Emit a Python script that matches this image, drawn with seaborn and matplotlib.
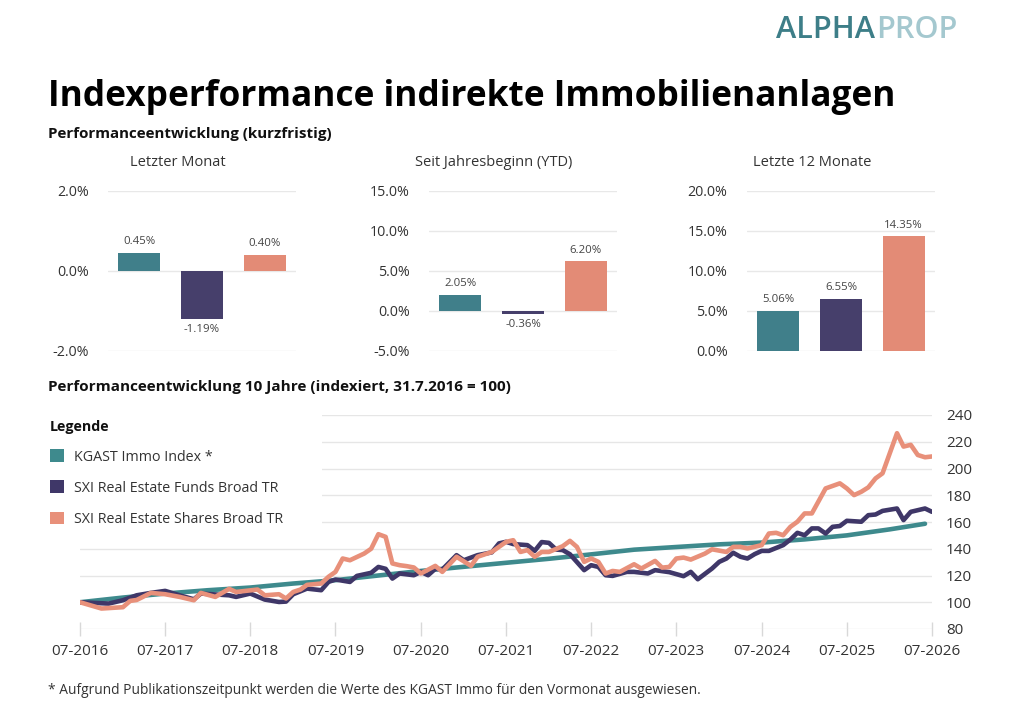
import matplotlib
matplotlib.use("Agg")
import matplotlib.pyplot as plt
import matplotlib.dates as mdates
from matplotlib.patches import Patch
from matplotlib.ticker import FuncFormatter, MultipleLocator
import seaborn as sns
import pandas as pd
import datetime as dt

# ---------------- data ----------------
categories = ["KGAST Immo Index *", "SXI Real Estate Funds Broad TR", "SXI Real Estate Shares Broad TR"]
last_month = [0.45, -1.19, 0.40]
ytd = [2.05, -0.36, 6.20]
last_12m = [5.06, 6.55, 14.35]

panel_titles = ["Letzter Monat", "Seit Jahresbeginn (YTD)", "Letzte 12 Monate"]

kgast_dates = ["2016-07", "2017-01", "2017-07", "2018-01", "2018-07", "2019-01", "2019-07",
               "2020-01", "2020-07", "2021-01", "2021-07", "2022-01", "2022-07", "2023-01",
               "2023-07", "2024-01", "2024-07", "2025-01", "2025-07", "2026-01", "2026-06"]
kgast_values = [100, 103.5, 106.5, 109, 111, 114, 116.5, 120, 123.4, 126.5, 129.5, 132.5,
                135.8, 139.3, 141.3, 143.3, 144.6, 147, 150, 154.5, 158.7]

funds_dates = ["2016-07", "2016-11", "2017-01", "2017-03", "2017-05", "2017-07", "2017-09",
               "2017-11", "2017-12", "2018-04", "2018-05", "2018-07", "2018-09", "2018-11",
               "2018-12", "2019-01", "2019-03", "2019-05", "2019-06", "2019-07", "2019-09",
               "2019-10", "2019-12", "2020-01", "2020-02", "2020-03", "2020-04", "2020-06",
               "2020-07", "2020-08", "2020-09", "2020-10", "2020-12", "2021-01", "2021-03",
               "2021-05", "2021-06", "2021-07", "2021-08", "2021-10", "2021-11", "2021-12",
               "2022-01", "2022-02", "2022-03", "2022-04", "2022-06", "2022-07", "2022-08",
               "2022-09", "2022-10", "2022-12", "2023-01", "2023-03", "2023-04", "2023-06",
               "2023-08", "2023-09", "2023-10", "2023-12", "2024-01", "2024-02", "2024-03",
               "2024-04", "2024-05", "2024-06", "2024-07", "2024-08", "2024-10", "2024-11",
               "2024-12", "2025-01", "2025-02", "2025-03", "2025-04", "2025-05", "2025-06",
               "2025-07", "2025-09", "2025-10", "2025-11", "2025-12", "2026-02", "2026-03",
               "2026-04", "2026-06", "2026-07"]
funds_values = [100, 99, 101.5, 105.2, 107, 108.5, 105.2,
                102.2, 106.5, 105.2, 104, 106.5, 102, 100.2,
                100.5, 106, 110.2, 109, 115.2, 117, 115.2,
                119.7, 122, 126.4, 125, 117.7, 121.5, 120.2,
                122.7, 120.2, 125, 124.5, 135.2, 131.4, 135.2,
                137.3, 144, 145.2, 143.5, 142.7, 138.4, 145,
                144.4, 139.4, 139, 135.9, 124, 127.7, 126.4,
                120.2, 119.7, 122.7, 122.7, 121.5, 124, 122.5,
                119.5, 122.7, 117.2, 125.2, 130.2, 132.7, 137,
                134, 132.7, 136, 138.4, 138.4, 142.7, 146.9,
                151.9, 150.1, 155.2, 155.2, 151.4, 156.4, 157,
                160.9, 160.2, 165.1, 165.6, 168.3, 170.1, 161.4,
                167.6, 170.1, 167.6]

shares_dates = ["2016-07", "2016-10", "2017-01", "2017-02", "2017-03", "2017-05", "2017-07",
                "2017-09", "2017-11", "2017-12", "2018-02", "2018-04", "2018-05", "2018-08",
                "2018-09", "2018-11", "2018-12", "2019-01", "2019-02", "2019-03", "2019-05",
                "2019-06", "2019-07", "2019-08", "2019-09", "2019-11", "2019-12", "2020-01",
                "2020-02", "2020-03", "2020-04", "2020-05", "2020-06", "2020-07", "2020-09",
                "2020-10", "2020-12", "2021-02", "2021-03", "2021-05", "2021-07", "2021-08",
                "2021-09", "2021-10", "2021-11", "2021-12", "2022-01", "2022-03", "2022-04",
                "2022-05", "2022-06", "2022-07", "2022-08", "2022-09", "2022-10", "2022-11",
                "2023-01", "2023-02", "2023-04", "2023-05", "2023-06", "2023-07", "2023-08",
                "2023-09", "2023-11", "2023-12", "2024-02", "2024-03", "2024-04", "2024-05",
                "2024-07", "2024-08", "2024-09", "2024-10", "2024-11", "2024-12", "2025-01",
                "2025-02", "2025-04", "2025-06", "2025-07", "2025-08", "2025-09", "2025-10",
                "2025-11", "2025-12", "2026-02", "2026-03", "2026-04", "2026-05", "2026-06",
                "2026-07"]
shares_values = [100, 95.3, 96.3, 101, 101.7, 107, 106,
                 104, 101.5, 107, 104, 110, 107.7, 109.5,
                 105.2, 106, 102.8, 107.7, 109.5, 113, 114,
                 119, 122.7, 132.7, 131.4, 136.4, 140, 150.9,
                 148.9, 129, 127.7, 127, 126, 121.5, 127.2,
                 122.7, 134, 127.2, 134, 137.6, 145.1, 146.4,
                 137.6, 139, 134, 137.6, 137.6, 141.9, 145.9,
                 141.4, 130.2, 132.7, 130.2, 121.5, 123.4, 122.7,
                 128.4, 125.2, 130.9, 125.9, 126.4, 132.7, 133.4,
                 131.9, 136.4, 139.6, 137.6, 141.4, 141.4, 140.2,
                 142.7, 151.4, 151.9, 150.1, 156.4, 160.2, 166.4,
                 166.4, 185.1, 188.9, 185.1, 180.1, 182.6, 185.9,
                 192.6, 196.4, 226.4, 216.4, 217.7, 210.1, 208.4,
                 209]

bar_colors = ["#407f8a", "#463f6b", "#e38b76"]
line_colors = ["#3e8a8d", "#3f3768", "#e8907a"]

# ---------------- style ----------------
sns.set_theme(style="white")
plt.rcParams["font.family"] = ["Open Sans", "DejaVu Sans"]
TXT = "#333333"

W, H = 1024, 718
fig = plt.figure(figsize=(W / 100, H / 100), dpi=100)
fig.patch.set_facecolor("white")


def fx(x):
    return x / W


def fy(y):
    return 1 - y / H


def fit(t, width_px):
    r = fig.canvas.get_renderer()
    bb = t.get_window_extent(renderer=r)
    t.set_fontsize(t.get_fontsize() * width_px / bb.width)
    return t


# ---------------- header ----------------
t_alpha = fig.text(fx(776), fy(30), "ALPHA", color="#3d7e88", fontsize=20, fontweight="semibold",
                   va="center", ha="left")
fit(t_alpha, 99)
r = fig.canvas.get_renderer()
bb = t_alpha.get_window_extent(renderer=r)
fig.text(bb.x1 / W + 0.001, fy(30), "PROP", color="#a4c8cf", fontsize=t_alpha.get_fontsize(),
         fontweight="semibold", va="center", ha="left")

t = fig.text(fx(48), fy(97), "Indexperformance indirekte Immobilienanlagen", fontsize=26,
             fontweight="bold", color="#000000", va="center", ha="left")
fit(t, 849)
t = fig.text(fx(48), fy(134), "Performanceentwicklung (kurzfristig)", fontsize=10,
             fontweight="bold", color="#111111", va="center", ha="left")
fit(t, 285)
t = fig.text(fx(48), fy(387), "Performanceentwicklung 10 Jahre (indexiert, 31.7.2016 = 100)",
             fontsize=10, fontweight="bold", color="#111111", va="center", ha="left")
fit(t, 464)
t = fig.text(fx(48), fy(690),
             "* Aufgrund Publikationszeitpunkt werden die Werte des KGAST Immo für den Vormonat ausgewiesen.",
             fontsize=8, color=TXT, va="center", ha="left")
fit(t, 654)

# ---------------- bar panels ----------------
panel_left = [108, 429, 747]
panel_title_x = [178, 494, 812]
ylims = [(-2, 2), (-5, 15), (0, 20)]
ysteps = [2, 5, 5]
panel_values = [last_month, ytd, last_12m]

for i in range(3):
    ax = fig.add_axes([fx(panel_left[i]), fy(351), 188 / W, 160 / H])
    df = pd.DataFrame({"cat": categories, "val": panel_values[i]})
    sns.barplot(data=df, x="cat", y="val", hue="cat", palette=bar_colors, width=0.67,
                legend=False, ax=ax, saturation=1, edgecolor="none")
    ax.set_xlim(-0.5, 2.5)
    ax.set_ylim(*ylims[i])
    ax.yaxis.set_major_locator(MultipleLocator(ysteps[i]))
    ax.yaxis.set_major_formatter(FuncFormatter(lambda v, p: f"{v:.1f}%"))
    ax.set_xticks([])
    ax.set_xlabel("")
    ax.set_ylabel("")
    ax.grid(axis="y", color="#e8e8e8", linewidth=1)
    ax.set_axisbelow(True)
    for s in ax.spines.values():
        s.set_visible(False)
    ax.tick_params(axis="y", length=0, pad=14, labelsize=10.3, labelcolor=TXT)
    for c, v in zip(ax.containers, panel_values[i]):
        ax.bar_label(c, labels=[f"{v:.2f}%"], padding=4, fontsize=8.2, color="#444444")
    fig.text(fx(panel_title_x[i]), fy(163), panel_titles[i], fontsize=10.5, color=TXT,
             ha="center", va="center")

# ---------------- line chart ----------------
rows = []
for name, dts, vals in [(categories[0], kgast_dates, kgast_values),
                        (categories[1], funds_dates, funds_values),
                        (categories[2], shares_dates, shares_values)]:
    for d, v in zip(dts, vals):
        rows.append({"date": pd.to_datetime(d + "-01"), "series": name, "value": v})
ldf = pd.DataFrame(rows)

axl = fig.add_axes([fx(80), fy(629), 852 / W, 214 / H])
sns.lineplot(data=ldf, x="date", y="value", hue="series", hue_order=categories,
             palette=line_colors, linewidth=3.3, estimator=None, legend=False, ax=axl)
axl.set_xlim(dt.datetime(2016, 7, 1), dt.datetime(2026, 7, 1))
axl.set_ylim(80, 240)
axl.yaxis.set_major_locator(MultipleLocator(20))
axl.yaxis.tick_right()
axl.xaxis.set_major_locator(mdates.YearLocator(month=7))
axl.xaxis.set_major_formatter(mdates.DateFormatter("%m-%Y"))
axl.grid(axis="y", color="#e6e6e6", linewidth=1)
axl.grid(axis="x", visible=False)
axl.set_axisbelow(True)
for s in axl.spines.values():
    s.set_visible(False)
axl.tick_params(axis="y", length=0, pad=10, labelsize=11, labelcolor=TXT, right=False, labelright=True)
axl.tick_params(axis="x", direction="inout", length=10, width=1, color="#d8d8d8", pad=6,
                labelsize=11, labelcolor=TXT, bottom=True)
axl.set_xlabel("")
axl.set_ylabel("")

handles = [Patch(facecolor=c, edgecolor="none") for c in line_colors]
leg = axl.legend(handles, categories, title="Legende", loc="upper left",
                 bbox_to_anchor=(fx(44), fy(545), (322 - 44) / W, (545 - 414) / H),
                 bbox_transform=fig.transFigure, mode="expand", borderaxespad=0,
                 frameon=True, fancybox=False, framealpha=1, facecolor="white", edgecolor="none",
                 fontsize=10.3, handlelength=1.0, handleheight=1.0, handletextpad=0.7,
                 labelspacing=1.1, borderpad=0.4, alignment="left",
                 title_fontproperties={"weight": "bold", "size": 10.3})
for txt in leg.get_texts():
    txt.set_color(TXT)
leg.get_title().set_color("#111111")

fig.savefig("out.png", dpi=100, facecolor="white")
